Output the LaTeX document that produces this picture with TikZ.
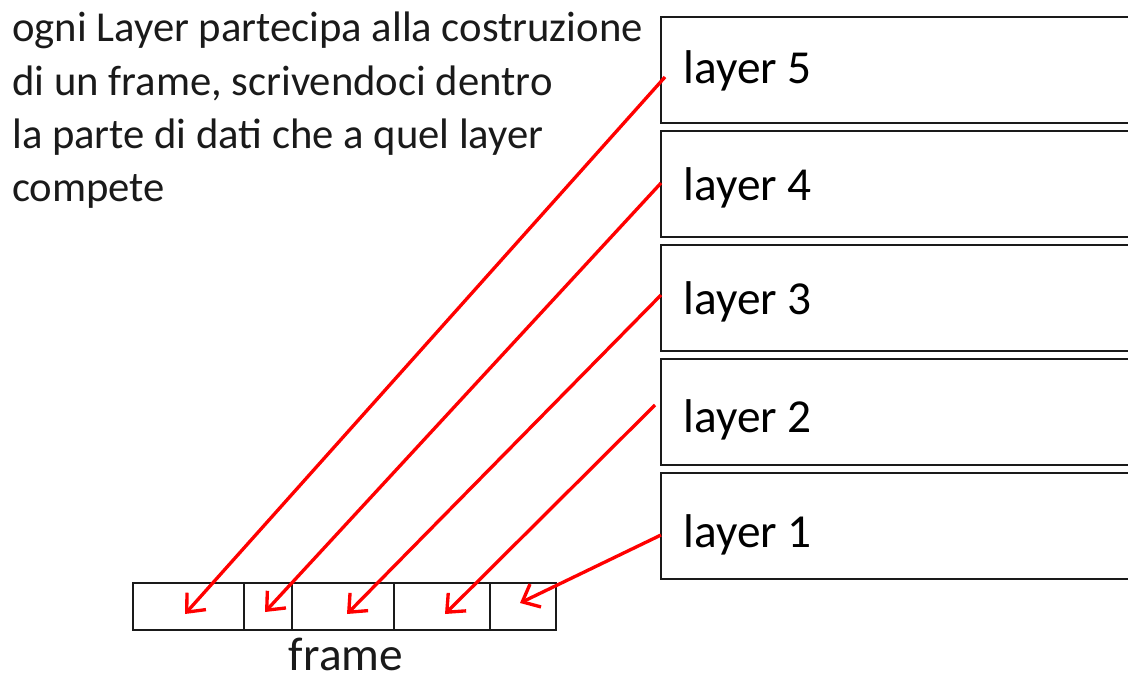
\documentclass[tikz,border=0pt]{standalone}
\usepackage{fontspec}
\setmainfont{Carlito}
\usetikzlibrary{arrows.meta,positioning,calc}
\definecolor{LinkRed}{HTML}{FF0000}
\definecolor{BoxInk}{HTML}{1A1A1A}
\tikzset{
  layerbox/.style={draw=BoxInk, line width=1.4pt, minimum height=79.5pt, text width=340pt,
                   inner xsep=17pt, inner ysep=0pt, outer sep=0pt, align=flush left,
                   text height=24pt, text depth=0pt,
                   font=\fontsize{35.5}{42}\selectfont},
  cell/.style={draw=BoxInk, line width=1.4pt, minimum height=35.25pt, inner sep=0pt, outer sep=0pt},
  link/.style={-{Straight Barb[length=11pt,width=19pt]}, line width=2.5pt, draw=LinkRed},
}
\begin{document}
\begin{tikzpicture}[x=0.75pt,y=-0.75pt]
  \useasboundingbox (0,0) rectangle (1128,675);
  \node[anchor=north west, inner sep=0pt, align=flush left, text=BoxInk,
        font=\fontsize{32}{40}\selectfont] (note) at (12,12)
        {ogni Layer partecipa alla costruzione\\di un frame, scrivendoci dentro\\la parte di dati che a quel layer\\compete};
  % layers
  \node[layerbox, anchor=north west, text height=19.5pt] (l5) at (661,17) {layer 5};
  \node[layerbox, below=6pt of l5] (l4) {layer 4};
  \node[layerbox, below=6pt of l4] (l3) {layer 3};
  \node[layerbox, below=6pt of l3, text height=30pt] (l2) {layer 2};
  \node[layerbox, below=6pt of l2, text height=31.5pt] (l1) {layer 1};
  % frame
  \node[cell, anchor=north west, minimum width=83.25pt] (c1) at (133,583) {};
  \node[cell, right=0pt of c1, minimum width=36pt] (c2) {};
  \node[cell, right=0pt of c2, minimum width=76.5pt] (c3) {};
  \node[cell, right=0pt of c3, minimum width=72pt] (c4) {};
  \node[cell, right=0pt of c4, minimum width=49.5pt] (c5) {};
  \node[anchor=base, inner sep=0pt, text=BoxInk, font=\fontsize{35.5}{42}\selectfont] (frame) at (346,670) {frame};
  \draw[link] ($(l5.west)+(4,7)$) -- ($(c1.center)+(-3.5,7.5)$);
  \draw[link] ($(l4.west)+(0,-1)$) -- ($(c2.center)+(-3,5.5)$);
  \draw[link] ($(l3.west)+(0,-3)$) -- ($(c3.center)+(4,7.5)$);
  \draw[link] ($(l2.west)+(-6,-7)$) -- ($(c4.center)+(3,7.5)$);
  \draw[link] ($(l1.west)+(0,9)$) -- ($(c5.center)+(-3,-3.5)$);
\end{tikzpicture}
\end{document}
